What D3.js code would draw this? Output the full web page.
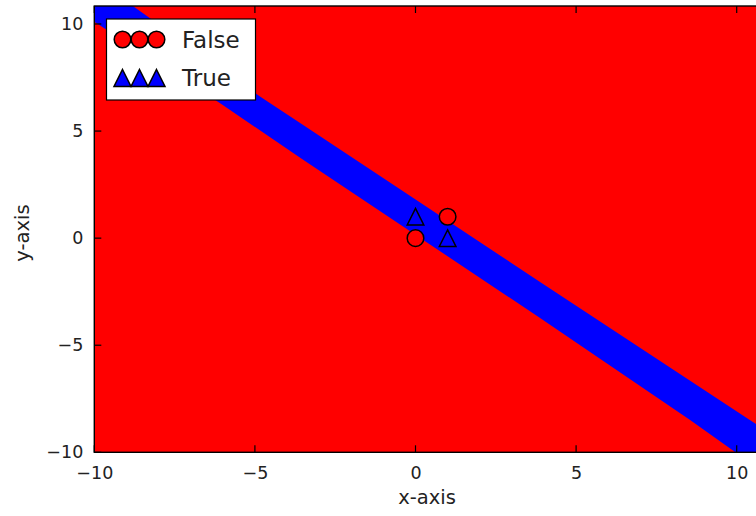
<!DOCTYPE html>
<html>
<head>
<meta charset="utf-8">
<script src="https://cdn.jsdelivr.net/npm/d3@7"></script>
<style>
  html, body { margin: 0; padding: 0; background: #fff; overflow: hidden; }
  svg { display: block; font-family: "DejaVu Sans", sans-serif; }
</style>
</head>
<body>
<svg id="chart" width="756" height="516"></svg>
<script>
// Sample points of the XOR problem, grouped by label
const labels = ["False", "True"];
const falseX = [0, 1];
const falseY = [0, 1];
const trueX = [0, 1];
const trueY = [1, 0];

// Decision region where the classifier answers True: band between two edges
const bandUpperX = [-11, -8.8, -4.83, -3.58, 3.89, 10.42, 12];
const bandUpperY = [12.8, 10.84, 6.6, 5.37, -2.06, -8.5, -10.1];
const bandLowerX = [-11, -10, -6.07, -3.58, 3.89, 8.56, 9.96, 11];
const bandLowerY = [11.1, 10.1, 6.29, 3.74, -3.74, -8.5, -10, -11.04];

// Axis ticks
const xTicks = [-10, -5, 0, 5, 10];
const yTicks = [-10, -5, 0, 5, 10];

const colors = { False: "#ff0000", True: "#0000ff" };

const svg = d3.select("#chart");
const plotLeft = 94.3, plotTop = 6, plotBottom = 452.3;
const x = d3.scaleLinear().domain([-10, 10.8]).range([plotLeft, plotLeft + 20.8 * 32.12]);
const y = d3.scaleLinear().domain([-10, 10.84]).range([plotBottom, plotTop]);
const plotRight = x(10.8);

svg.append("clipPath").attr("id", "plotclip")
  .append("rect").attr("x", plotLeft).attr("y", plotTop)
  .attr("width", plotRight - plotLeft).attr("height", plotBottom - plotTop);

const plot = svg.append("g").attr("clip-path", "url(#plotclip)");

// False region fills the whole area
plot.append("rect")
  .attr("x", plotLeft).attr("y", plotTop)
  .attr("width", plotRight - plotLeft).attr("height", plotBottom - plotTop)
  .attr("fill", colors.False);

// True band
const upper = bandUpperX.map((v, i) => [x(v), y(bandUpperY[i])]);
const lower = bandLowerX.map((v, i) => [x(v), y(bandLowerY[i])]).reverse();
plot.append("path")
  .attr("d", d3.line()(upper.concat(lower)) + "Z")
  .attr("fill", colors.True);

// Markers
const triPath = (s) => `M0,${-s}L${s},${s}L${-s},${s}Z`;
plot.selectAll("circle.pt").data(falseX.map((v, i) => [v, falseY[i]]))
  .join("circle").attr("class", "pt")
  .attr("cx", d => x(d[0])).attr("cy", d => y(d[1])).attr("r", 8.3)
  .attr("fill", colors.False).attr("stroke", "#000").attr("stroke-width", 1.5);
plot.selectAll("path.pt").data(trueX.map((v, i) => [v, trueY[i]]))
  .join("path").attr("class", "pt")
  .attr("transform", d => `translate(${x(d[0])},${y(d[1])})`)
  .attr("d", triPath(8.3))
  .attr("fill", colors.True).attr("stroke", "#000").attr("stroke-width", 1.5);

// Axes with inward ticks
const axisG = svg.append("g");
const tickLen = 7;
const xAxis = axisG.append("g").attr("transform", `translate(0,${plotBottom})`)
  .call(d3.axisBottom(x).tickValues(xTicks).tickSize(0).tickPadding(10)
    .tickFormat(d => d < 0 ? "\u2212" + Math.abs(d) : d));
const yAxis = axisG.append("g").attr("transform", `translate(${plotLeft},0)`)
  .call(d3.axisLeft(y).tickValues(yTicks).tickSize(0).tickPadding(11)
    .tickFormat(d => d < 0 ? "\u2212" + Math.abs(d) : d));
[xAxis, yAxis].forEach(g => {
  g.select(".domain").remove();
  g.selectAll("text").attr("font-size", 17.5).attr("fill", "#222")
    .attr("font-family", "DejaVu Sans");
});
xAxis.selectAll("text").attr("dy", "0.95em");

const ticks = svg.append("g").attr("stroke", "#000").attr("stroke-width", 1.2);
xTicks.forEach(t => {
  ticks.append("line").attr("x1", x(t)).attr("x2", x(t)).attr("y1", plotBottom).attr("y2", plotBottom - tickLen);
  ticks.append("line").attr("x1", x(t)).attr("x2", x(t)).attr("y1", plotTop).attr("y2", plotTop + tickLen);
});
yTicks.forEach(t => {
  ticks.append("line").attr("x1", plotLeft).attr("x2", plotLeft + tickLen).attr("y1", y(t)).attr("y2", y(t));
});

// Frame
svg.append("rect").attr("x", plotLeft).attr("y", plotTop)
  .attr("width", plotRight - plotLeft).attr("height", plotBottom - plotTop)
  .attr("fill", "none").attr("stroke", "#000").attr("stroke-width", 1.4);

// Axis titles
svg.append("text").attr("x", 427).attr("y", 504).attr("text-anchor", "middle")
  .attr("font-size", 19.5).attr("fill", "#222").text("x-axis");
svg.append("text").attr("transform", "translate(29,233) rotate(-90)")
  .attr("text-anchor", "middle").attr("font-size", 19.5).attr("fill", "#222").text("y-axis");

// Legend
const lg = svg.append("g");
lg.append("rect").attr("x", 106.5).attr("y", 19).attr("width", 149).attr("height", 81)
  .attr("fill", "#fff").attr("stroke", "#000").attr("stroke-width", 1.2);
const lxs = [122.5, 139.5, 156.5];
labels.forEach((lab, i) => {
  const cy = i === 0 ? 39.5 : 78;
  lxs.forEach(cx => {
    if (lab === "False") {
      lg.append("circle").attr("cx", cx).attr("cy", cy).attr("r", 8.3)
        .attr("fill", colors.False).attr("stroke", "#000").attr("stroke-width", 1.5);
    } else {
      lg.append("path").attr("transform", `translate(${cx},${cy})`).attr("d", triPath(8.5))
        .attr("fill", colors.True).attr("stroke", "#000").attr("stroke-width", 1.5);
    }
  });
  lg.append("text").attr("x", 182).attr("y", cy).attr("dy", "0.36em")
    .attr("font-size", 23).attr("fill", "#222").text(lab);
});
</script>
</body>
</html>
